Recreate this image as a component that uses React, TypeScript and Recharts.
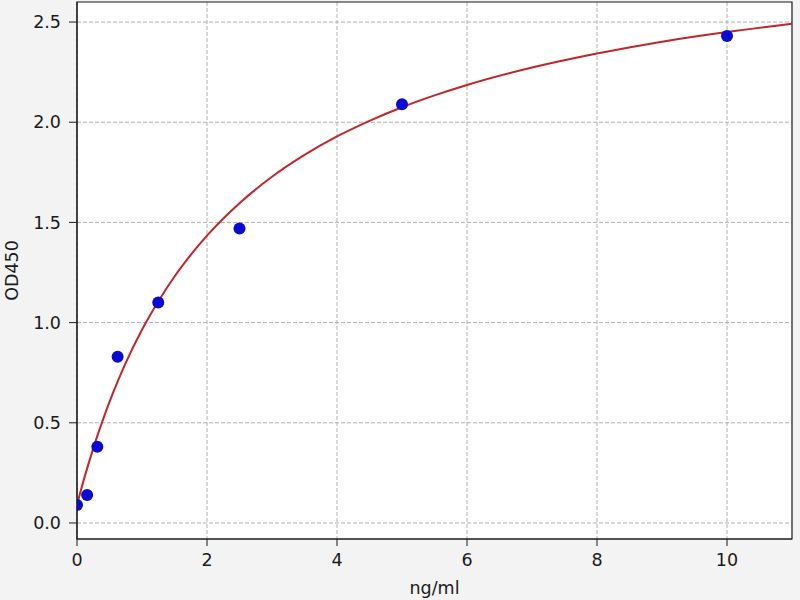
import React from 'react';
import {
  ComposedChart,
  Line,
  Scatter,
  XAxis,
  YAxis,
  CartesianGrid,
  ReferenceArea,
} from 'recharts';

const concentrations = [0, 0.156, 0.3125, 0.625, 1.25, 2.5, 5, 10];
const odValues = [0.09, 0.14, 0.38, 0.83, 1.1, 1.47, 2.09, 2.43];

const curveX = [0, 0.1, 0.2, 0.3, 0.4, 0.5, 0.625, 0.75, 1, 1.25, 1.5, 1.75, 2, 2.5, 3, 3.5, 4, 4.5, 5, 5.5, 6, 7, 8, 9, 10, 11];
const curveY = [0.09, 0.21, 0.32, 0.422, 0.516, 0.604, 0.705, 0.799, 0.964, 1.105, 1.23, 1.338, 1.434, 1.596, 1.728, 1.837, 1.929, 2.007, 2.075, 2.134, 2.186, 2.273, 2.343, 2.402, 2.45, 2.491];

const xTicks = [0, 2, 4, 6, 8, 10];
const yTicks = [0, 0.5, 1, 1.5, 2, 2.5];

const points = concentrations.map((x, i) => ({ x, y: odValues[i] }));
const curve = curveX.map((x, i) => ({ x, y: curveY[i] }));

const FONT = 'DejaVu Sans';
const TEXT = '#1a1a1a';
const FS = 17.5;

export default function App() {
  return (
    <div
      style={{
        position: 'absolute',
        left: 0,
        top: 0,
        width: 800,
        height: 600,
        background: '#f3f3f3',
      }}
    >
      <ComposedChart
        width={800}
        height={600}
        margin={{ top: 2, right: 8, bottom: 4, left: 0 }}
      >
        <CartesianGrid
          fill="#ffffff"
          stroke="#b0b0b0"
          strokeDasharray="4 2"
          horizontalValues={yTicks}
          verticalValues={xTicks}
        />
        <XAxis
          type="number"
          dataKey="x"
          domain={[0, 11]}
          ticks={xTicks}
          allowDataOverflow
          height={57}
          stroke="#1a1a1a"
          tickSize={7}
          tickMargin={8}
          tick={{ fill: TEXT, fontSize: FS, fontFamily: FONT }}
          label={{
            value: 'ng/ml',
            position: 'insideBottom',
            offset: 2,
            fill: TEXT,
            fontSize: FS,
            fontFamily: FONT,
          }}
        />
        <YAxis
          type="number"
          dataKey="y"
          domain={[-0.08, 2.6]}
          ticks={yTicks}
          allowDataOverflow
          width={77}
          stroke="#1a1a1a"
          tickSize={8}
          tickMargin={8}
          tickFormatter={(v: number) => v.toFixed(1)}
          tick={{ fill: TEXT, fontSize: FS, fontFamily: FONT }}
          label={{
            value: 'OD450',
            content: (props: any) => {
              const vb = props.viewBox || { x: 0, y: 2, width: 77, height: 537 };
              const cx = 12;
              const cy = vb.y + vb.height / 2;
              return (
                <text
                  x={cx}
                  y={cy}
                  transform={`rotate(-90, ${cx}, ${cy})`}
                  textAnchor="middle"
                  dominantBaseline="central"
                  fill={TEXT}
                  fontSize={FS}
                  fontFamily={FONT}
                >
                  OD450
                </text>
              );
            },
          }}
        />
        <ReferenceArea
          x1={0}
          x2={11}
          y1={-0.08}
          y2={2.6}
          fill="none"
          fillOpacity={0}
          stroke="#1a1a1a"
          strokeWidth={1.2}
        />
        <Scatter
          data={points}
          dataKey="y"
          fill="#0a0ad0"
          isAnimationActive={false}
          shape={(p: any) => <circle cx={p.cx} cy={p.cy} r={6} fill="#0a0ad0" />}
        />
        <Line
          data={curve}
          dataKey="y"
          type="monotone"
          stroke="#c0262a"
          strokeWidth={2}
          dot={false}
          activeDot={false}
          isAnimationActive={false}
        />
      </ComposedChart>
    </div>
  );
}
